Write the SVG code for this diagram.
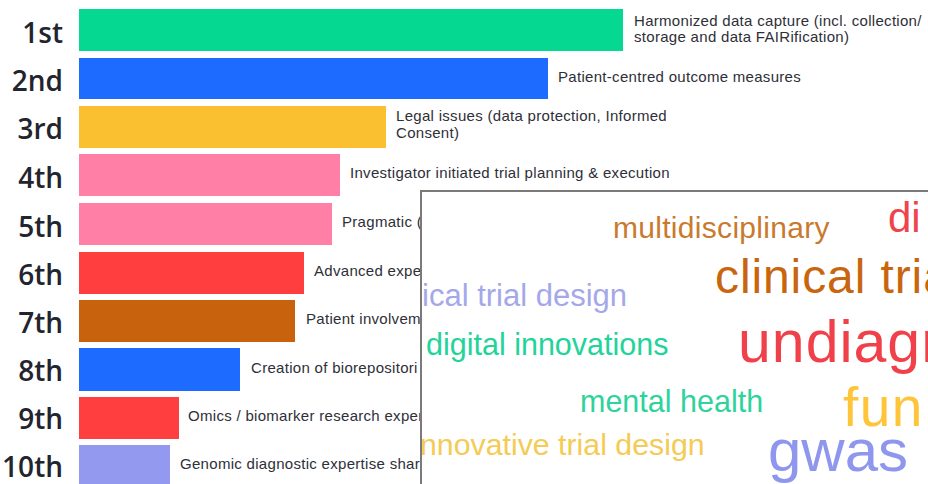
<svg xmlns="http://www.w3.org/2000/svg" width="928" height="484" viewBox="0 0 928 484">
<style>
.rank{font-family:"Open Sans","Liberation Sans",Arial,sans-serif;font-size:28px;font-weight:600;fill:#22242e;text-anchor:end}
.lbl{font-family:"Liberation Sans",Arial,sans-serif;font-size:15px;fill:#2e2f38;letter-spacing:0.3px}
.w{font-family:"Liberation Sans",Arial,sans-serif}
</style>
<defs>
<clipPath id="pc"><rect x="422" y="192" width="506" height="292"/></clipPath>
</defs>
<rect width="928" height="484" fill="#ffffff"/>
<g id="bars">
<g id="r1"><text class="rank" x="63" y="43">1st</text><rect x="79" y="9" width="544" height="42" fill="#05d890"/><text class="lbl" x="634" y="26">Harmonized data capture (incl. collection/</text><text class="lbl" x="634" y="42">storage and data FAIRification)</text></g>
<g id="r2"><text class="rank" x="63" y="91">2nd</text><rect x="79" y="58" width="469" height="41" fill="#1e6bff"/><text class="lbl" x="558" y="82">Patient-centred outcome measures</text></g>
<g id="r3"><text class="rank" x="63" y="139">3rd</text><rect x="79" y="106" width="307" height="42" fill="#fbc02f"/><text class="lbl" x="396" y="121">Legal issues (data protection, Informed</text><text class="lbl" x="396" y="138">Consent)</text></g>
<g id="r4"><text class="rank" x="63" y="188">4th</text><rect x="79" y="154" width="261" height="42" fill="#ff7fa6"/><text class="lbl" x="350" y="178">Investigator initiated trial planning &amp; execution</text></g>
<g id="r5"><text class="rank" x="63" y="237">5th</text><rect x="79" y="203" width="253" height="42" fill="#ff7fa6"/><text class="lbl" x="342" y="227">Pragmatic (</text></g>
<g id="r6"><text class="rank" x="63" y="285">6th</text><rect x="79" y="252" width="225" height="42" fill="#ff3f3f"/><text class="lbl" x="314" y="276">Advanced expe</text></g>
<g id="r7"><text class="rank" x="63" y="333">7th</text><rect x="79" y="300" width="216" height="42" fill="#c8620c"/><text class="lbl" x="306" y="324">Patient involvem</text></g>
<g id="r8"><text class="rank" x="63" y="381">8th</text><rect x="79" y="348" width="161" height="43" fill="#1e6bff"/><text class="lbl" x="251" y="373">Creation of biorepositori</text></g>
<g id="r9"><text class="rank" x="63" y="429">9th</text><rect x="79" y="397" width="100" height="42" fill="#ff3f3f"/><text class="lbl" x="188" y="421">Omics / biomarker research exper</text></g>
<g id="r10"><text class="rank" x="63" y="477">10th</text><rect x="79" y="445" width="91" height="45" fill="#9499f0"/><text class="lbl" x="180" y="469">Genomic diagnostic expertise shar</text></g>
</g>
<g id="wordcloud">
<rect x="421" y="191" width="520" height="300" fill="#ffffff" stroke="#7a7a7a" stroke-width="2"/>
<g clip-path="url(#pc)" class="w">
<text x="613" y="238" font-size="30" fill="#c97a2e" letter-spacing="0.3">multidisciplinary</text>
<text x="888" y="232" font-size="42" fill="#f0434c">di</text>
<text x="715" y="293" font-size="48" fill="#c8660f" letter-spacing="0.9">clinical tria</text>
<text x="422" y="306" font-size="31" fill="#a4a8ea">ical trial design</text>
<text x="426" y="355" font-size="30.5" fill="#22d39a">digital innovations</text>
<text x="738" y="362" font-size="59" fill="#f0414a" letter-spacing="1">undiagn</text>
<text x="580" y="412" font-size="30.5" fill="#2ed39c">mental health</text>
<text x="843" y="426" font-size="55" fill="#ffc53a" letter-spacing="1.5">fun</text>
<text x="420" y="455" font-size="30.3" fill="#f3cb55">nnovative trial design</text>
<text x="768" y="471" font-size="60" fill="#8e96ee">gwas</text>
</g>
</g>
</svg>
